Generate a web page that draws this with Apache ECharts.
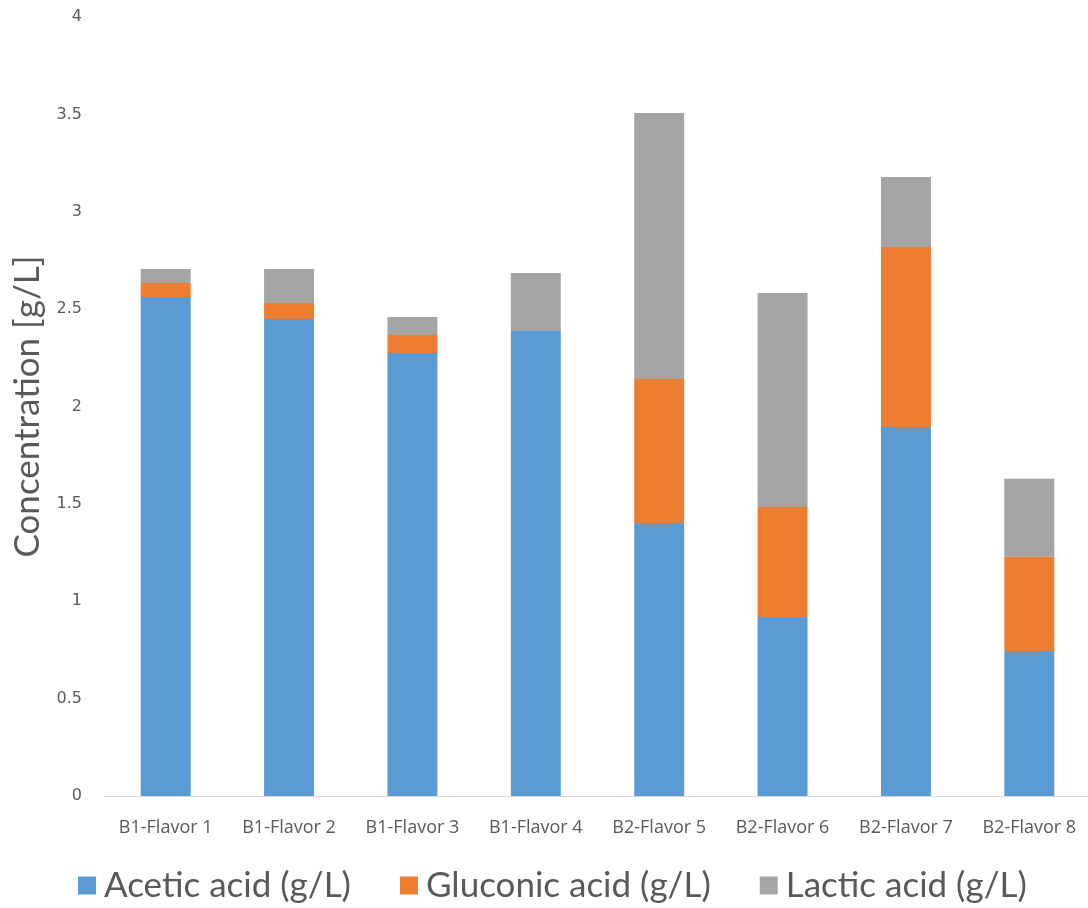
<!DOCTYPE html>
<html>
<head>
<meta charset="utf-8">
<script src="https://cdn.jsdelivr.net/npm/echarts@6/dist/echarts.min.js"></script>
<style>
  html, body { margin: 0; padding: 0; background: #fff; }
  #chart { width: 1088px; height: 908px; }
</style>
</head>
<body>
<div id="chart"></div>
<script>
// Samples (one stacked bar per flavor)
const categories = ['B1-Flavor 1', 'B1-Flavor 2', 'B1-Flavor 3', 'B1-Flavor 4',
                    'B2-Flavor 5', 'B2-Flavor 6', 'B2-Flavor 7', 'B2-Flavor 8'];

// Concentrations in g/L
const aceticAcid   = [2.562, 2.449, 2.275, 2.388, 1.402, 0.919, 1.895, 0.745];
const gluconicAcid = [0.072, 0.082, 0.092, 0.000, 0.739, 0.565, 0.924, 0.483];
const lacticAcid   = [0.072, 0.175, 0.092, 0.298, 1.366, 1.099, 0.359, 0.401];

const seriesNames = ['Acetic acid (g/L)', 'Gluconic acid (g/L)', 'Lactic acid (g/L)'];
const seriesColors = ['#5B9BD5', '#ED7D31', '#A5A5A5'];

const chart = echarts.init(document.getElementById('chart'), null, { renderer: 'canvas' });

const stackSeries = [aceticAcid, gluconicAcid, lacticAcid].map((data, i) => ({
  name: seriesNames[i],
  type: 'bar',
  stack: 'total',
  data: data,
  barWidth: '40.5%',
  itemStyle: { color: seriesColors[i] },
  emphasis: { disabled: true }
}));

chart.setOption({
  animation: false,
  backgroundColor: '#ffffff',
  grid: {
    left: 104, right: -3, top: 17, bottom: 112,
    containLabel: false,
    outerBoundsMode: 'none'
  },
  legend: {
    bottom: 0,
    left: 73,
    itemWidth: 18,
    itemHeight: 18,
    itemGap: 49,
    icon: 'rect',
    textStyle: { fontFamily: 'Lato', fontSize: 35, color: '#595959', padding: [0, 0, 0, 3] },
    data: seriesNames
  },
  xAxis: {
    type: 'category',
    data: categories,
    axisLine: { show: true, lineStyle: { color: '#D9D9D9', width: 1 } },
    axisTick: { show: false },
    axisLabel: { interval: 0, fontFamily: 'Open Sans', fontSize: 18, color: '#595959', margin: 23 }
  },
  yAxis: {
    type: 'value',
    min: 0,
    max: 4,
    interval: 0.5,
    name: 'Concentration [g/L]',
    nameLocation: 'middle',
    nameGap: 57,
    nameRotate: 90,
    nameTextStyle: { fontFamily: 'Lato', fontSize: 35, color: '#595959' },
    axisLine: { show: false },
    axisTick: { show: false },
    splitLine: { show: false },
    axisLabel: { fontFamily: 'DejaVu Sans', fontSize: 16, color: '#595959', margin: 22 }
  },
  series: stackSeries
});
</script>
</body>
</html>
